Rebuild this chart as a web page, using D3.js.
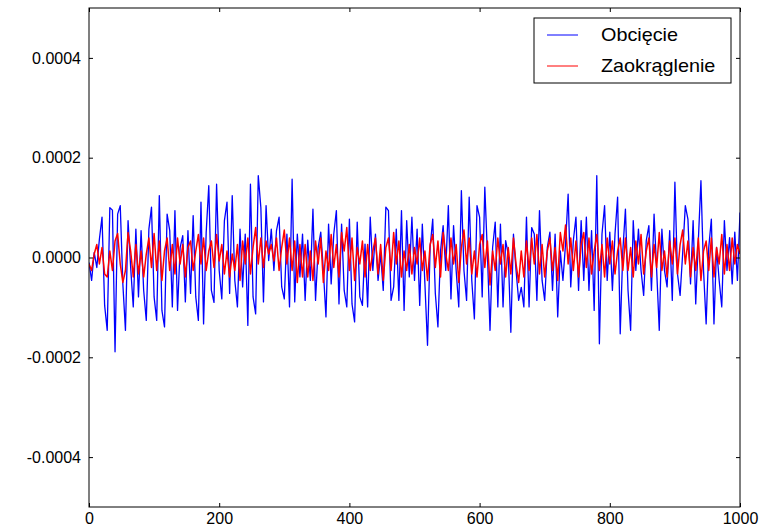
<!DOCTYPE html>
<html>
<head>
<meta charset="utf-8">
<script src="https://cdn.jsdelivr.net/npm/d3@7"></script>
<style>
  html, body { margin: 0; padding: 0; background: #fff; }
  svg text { font-family: "Liberation Sans", Arial, sans-serif; fill: #000; }
</style>
</head>
<body>
<div id="chart"></div>
<script>
// values, in units of 1e-4, one every 4 samples
var UNIT = 1e-4;
var STEP = 4;

var obciecie = [
  -0.1, -0.46, 0.1, -0.2, 0.37, 0.81, -0.96, -1.46, 1.0, 0.95,
  -1.89, 0.87, 1.04, -0.53, -1.46, 0.74, -0.2, -0.99, 0.57, -0.79,
  0.54, -0.66, -1.26, 0.57, 1.01, -0.79, -1.26, 1.24, -1.06, -1.39,
  0.87, 0.54, -0.99, 0.94, -1.06, 0.2, 0.44, -0.89, 0.54, -0.72,
  0.84, -0.79,
  -1.26, 1.11, -1.33, 0.5, 1.44, -0.66, -0.9, 1.47, -0.26, -0.83,
  0.74, 1.11, -0.72, 1.24, -0.46, -0.99, 0.57, -0.59, 0.47, -1.36,
  1.47, -0.79, -1.13, 1.64, 1.0, -0.89, 1.04, -0.06, 0.57, -0.26,
  0.54, 0.81, -0.59, -0.83, 0.47, -0.99, 1.57, -0.89, 0.47, -0.39,
  0.47,
  -0.86, 0.35, -0.46, 0.97, -0.86, 0.2, 0.51, -0.26, -1.19, 0.67,
  -0.53, 0.47, 0.94, -0.93, 0.67, -0.66, -0.99, 0.77, -0.93, -1.29,
  0.71, -0.79, -0.96, 0.27, -0.99, 0.81, -0.26, 0.47, -0.46, 0.07,
  -0.66, 1.01, 0.94, -0.86, -0.59, 0.57, -0.86, 0.94, -1.06, 0.74,
  -0.39,
  0.81, -0.46, 0.57, -0.96, 0.67, -0.53, -1.76, 0.2, 0.77, -0.72,
  -1.39, 0.13, 0.64, -0.26, 1.04, -0.83, 0.64, -0.26, -0.99, 1.34,
  -0.26, -0.86, 1.21, -0.46, -1.23, 1.04, 0.81, -0.79, 1.41, 0.07,
  -1.46, 0.2, 0.71, -0.99, 0.67, -0.99, 0.34, 0.07, -1.5, 0.47,
  -0.26,
  -0.86, -0.6, -0.99, 0.81, -0.99, 0.6, 0.47, -0.86, 0.94, -0.46,
  -0.86, 0.2, 0.51, -0.66, 0.47, -1.19, 0.13, -0.46, 0.27, 1.27,
  -0.59, 0.34, 0.81, -0.66, 0.74, -0.46, 0.81, -0.66, 0.54, -1.06,
  1.64, -1.73, 0.47, 1.04, -0.46, 0.51, -0.66, 0.47, 1.21, -1.53,
  0.13,
  0.97, -0.66, -1.46, 0.74, -0.26, 0.57, -0.26, -0.76, 0.34, 0.64,
  -0.66, 0.87, -0.26, -1.46, 0.57, -0.26, -0.59, 0.54, -0.86, 1.51,
  -0.33, -0.76, 0.1, 1.04, 0.77, -0.53, 0.74, -0.93, 0.34, 1.54,
  -0.26, -1.33, 0.2, 0.77, -1.33, 0.2, -0.46, -0.99, 0.74, -0.26,
  0.4, -0.53, 0.51, -0.46, 0.9
];

var zaokraglenie = [
  -0.13, -0.26, 0.07, 0.26, -0.13, 0.2, -0.33, -0.39, 0.13, -0.26,
  0.33, 0.48, -0.13, -0.5, -0.26, 0.5, 0.13, -0.39, 0.26, -0.33,
  0.13, -0.39, 0.07, 0.39, -0.2, 0.48, -0.26, 0.33, -0.46, 0.13,
  0.39, -0.26, 0.26, -0.33, 0.39, -0.13, 0.26, -0.39, 0.2, 0.33,
  -0.26, 0.13,
  0.46, -0.13, 0.39, -0.26, 0.13, 0.33, -0.2, 0.46, -0.07, 0.26,
  -0.33, 0.13, -0.39, 0.07, -0.26, 0.26, -0.46, 0.33, -0.13, 0.39,
  -0.33, 0.2, 0.6, -0.13, 0.39, -0.2, 0.33, 0.07, 0.26, -0.07,
  0.39, -0.26, 0.2, 0.55, -0.13, 0.39, -0.26, 0.33, -0.5, 0.26,
  -0.39,
  0.26, -0.39, 0.13, -0.46, 0.33, -0.13, 0.39, -0.5, 0.13, -0.26,
  0.46, -0.2, 0.26, -0.39, 0.5, 0.13, 0.6, -0.26, 0.39, -0.46,
  0.2, -0.13, 0.33, -0.39, 0.26, -0.26, 0.13, 0.39, -0.33, 0.26,
  -0.46, 0.2, 0.39, -0.26, 0.5, -0.13, 0.33, -0.39, 0.13, -0.26,
  0.26,
  -0.33, 0.2, -0.13, 0.39, -0.26, 0.13, -0.46, 0.26, 0.46, -0.2,
  0.33, -0.39, 0.5, 0.07, -0.26, 0.39, -0.13, 0.26, -0.5, 0.2,
  0.55, -0.13, 0.39, -0.33, 0.13, -0.39, 0.26, 0.46, -0.2, 0.33,
  -0.55, 0.13, -0.26, 0.39, -0.13, 0.26, -0.39, 0.2, -0.33, 0.39,
  -0.13,
  -0.5, 0.13, -0.39, 0.33, -0.26, 0.39, -0.13, 0.46, -0.33, 0.26,
  -0.39, 0.13, 0.39, -0.26, 0.2, -0.46, 0.5, 0.13, 0.65, -0.13,
  0.39, -0.26, 0.33, -0.39, 0.26, 0.5, -0.2, 0.39, -0.33, 0.13,
  0.46, -0.26, 0.26, -0.39, 0.39, -0.13, 0.33, -0.33, 0.13, 0.39,
  -0.26,
  0.39, -0.26, 0.2, -0.39, 0.33, -0.13, 0.46, -0.33, 0.13, 0.39,
  -0.39, 0.26, -0.2, 0.5, -0.26, 0.13, -0.39, 0.33, -0.13, 0.39,
  -0.33, 0.26, 0.55, -0.13, 0.33, -0.39, 0.2, -0.26, 0.39, -0.46,
  0.13, 0.33, -0.26, 0.39, -0.39, 0.2, -0.13, 0.46, -0.33, 0.26,
  -0.26, 0.39, -0.13, 0.26, 0.07
];

var seriesNames = ["Obcięcie", "Zaokrąglenie"];
var seriesColors = ["#0000ff", "#ff0000"];
var seriesWidths = [1.3, 1.5];
var xTicks = [0, 200, 400, 600, 800, 1000];
var yTicks = [-0.0004, -0.0002, 0, 0.0002, 0.0004];

var totalWidth = 767, totalHeight = 529;
var margin = { top: 8, right: 27, bottom: 22, left: 89 };
var width = totalWidth - margin.left - margin.right,
    height = totalHeight - margin.top - margin.bottom;

var svg = d3.select("#chart")
  .append("svg")
    .attr("width", totalWidth)
    .attr("height", totalHeight)
  .append("g")
    .attr("transform", "translate(" + margin.left + "," + margin.top + ")");

var x = d3.scaleLinear().domain([0, 1000]).range([0, width]);
var y = d3.scaleLinear().domain([-0.0005, 0.0005]).range([height, 0]);

svg.append("defs").append("clipPath").attr("id", "clip")
  .append("rect").attr("width", width).attr("height", height);

var line = d3.line()
  .x(function(d, i) { return x(i * STEP); })
  .y(function(d) { return y(d * UNIT); });

var plot = svg.append("g").attr("clip-path", "url(#clip)");
[obciecie, zaokraglenie].forEach(function(vals, k) {
  plot.append("path")
    .datum(vals)
    .attr("d", line)
    .attr("fill", "none")
    .attr("stroke", seriesColors[k])
    .attr("stroke-width", seriesWidths[k])
    .attr("stroke-linejoin", "round");
});

// axes, matplotlib classic: ticks pointing in, on all four sides
var fmtY = function(d) { return d === 0 ? "0.0000" : d3.format(".4f")(d).replace("−", "-"); };

svg.append("g")
  .attr("transform", "translate(0," + height + ")")
  .call(d3.axisBottom(x).tickValues(xTicks).tickSizeInner(-4).tickSizeOuter(0)
    .tickPadding(6).tickFormat(d3.format("d")));
svg.append("g")
  .call(d3.axisTop(x).tickValues(xTicks).tickSizeInner(-4).tickSizeOuter(0).tickFormat(""));
svg.append("g")
  .call(d3.axisLeft(y).tickValues(yTicks).tickSizeInner(-4).tickSizeOuter(0).tickPadding(8).tickFormat(fmtY));
svg.append("g")
  .attr("transform", "translate(" + width + ",0)")
  .call(d3.axisRight(y).tickValues(yTicks).tickSizeInner(-4).tickSizeOuter(0).tickFormat(""));

svg.selectAll(".domain").remove();
svg.selectAll(".tick line").attr("stroke", "#000");
svg.selectAll(".tick text").style("font-size", "16px");

svg.append("rect")
  .attr("width", width).attr("height", height)
  .attr("fill", "none").attr("stroke", "#000").attr("stroke-width", 1);

// legend
var legend = svg.append("g").attr("transform", "translate(" + (width - 206) + ",10)");
legend.append("rect")
  .attr("width", 197).attr("height", 65)
  .attr("fill", "#fff").attr("stroke", "#000").attr("stroke-width", 1);
seriesNames.forEach(function(name, k) {
  var g = legend.append("g").attr("transform", "translate(0," + (17 + k * 31) + ")");
  g.append("line").attr("x1", 13).attr("x2", 44)
    .attr("stroke", seriesColors[k]).attr("stroke-width", 1);
  g.append("text")
    .attr("transform", "translate(67,0) scale(1.1,1)")
    .attr("dy", "0.35em")
    .style("font-size", "18px").text(name);
});
</script>
</body>
</html>
